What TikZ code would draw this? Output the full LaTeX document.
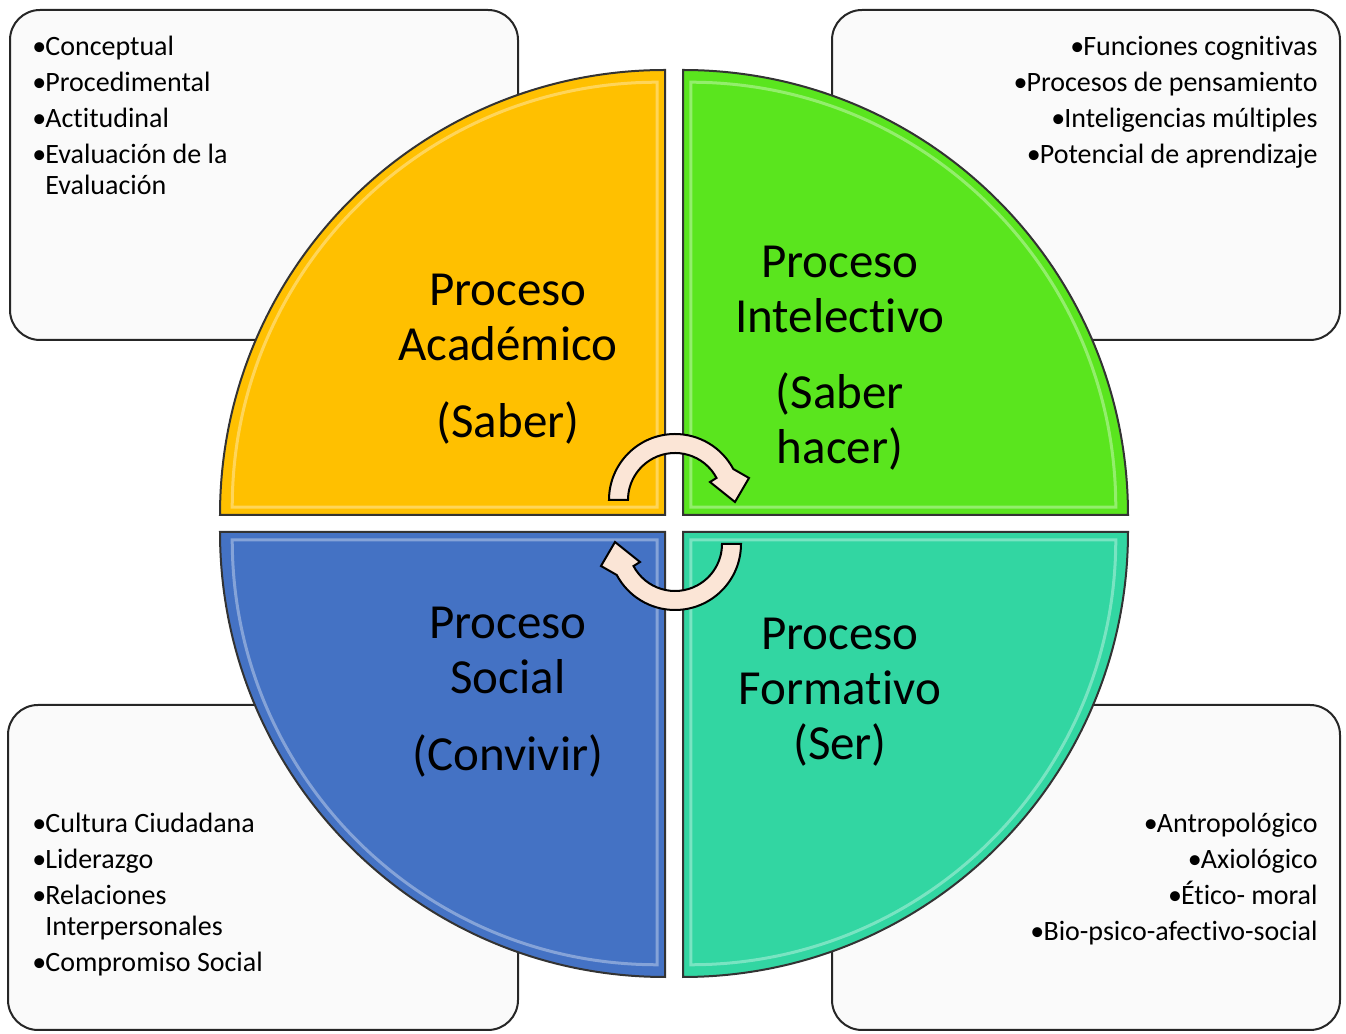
\documentclass[tikz,border=0pt]{standalone}
\usepackage{fontspec}
\setmainfont{Carlito}[Ligatures=NoCommon]
\usepackage{tikz}
\usetikzlibrary{calc}
\definecolor{academico}{HTML}{FFC000}
\definecolor{intelectivo}{HTML}{5AE51E}
\definecolor{social}{HTML}{4472C4}
\definecolor{formativo}{HTML}{32D6A2}
\definecolor{peach}{HTML}{FBE5D6}
\def\quarter[#1](#2)(#3:#4){\draw[#1] (#2) -- ++(#3:445) arc (#3:#4:445) -- cycle;}
\def\quartershine[#1](#2)(#3:#4){\draw[#1] ($(#2)+({(#3+#4)/2}:11)$) -- ++(#3:425) arc (#3:#4:425) -- cycle;}
\def\turnarrow[#1](#2)(#3){\begin{scope}[shift={(#2)},rotate=#3]
  \draw[#1] (-47,0) -- (-66,0) arc (180:28:66) -- (74,22) -- (60,-2) -- (35,18) -- (28:47) arc (28:180:47) -- cycle;
\end{scope}}
\newcommand\itm{\makebox[6.5pt][l]{•}}

\begin{document}
\begin{tikzpicture}[x=0.5pt,y=0.5pt,
  listbox/.style={draw=black!85, line width=1pt, fill=black!2, rounded corners=15pt},
  seg/.style={draw=black!80, line width=1pt},
  shine/.style={draw=white, line width=1.5pt, opacity=0.35},
  segtext/.style={align=center, inner sep=0pt, font=\fontsize{24.5}{27.5}\selectfont},
  itemtext/.style={inner sep=0pt, font=\fontsize{14}{15.5}\selectfont},
  turn/.style={draw=black, line width=1pt, fill=peach}]
			%%%%% START %%%%%
			
			\useasboundingbox (0,0) rectangle (1346,1034);
			
			\draw[listbox] (10,694) rectangle (518,1024);
			\draw[listbox] (832,694) rectangle (1340,1024);
			\draw[listbox] (8,4) rectangle (518,329);
			\draw[listbox] (832,4) rectangle (1340,329);
			
			\quarter[seg, fill=academico](665,519)(90:180)
			\quarter[seg, fill=intelectivo](683,519)(0:90)
			\quarter[seg, fill=social](665,502)(180:270)
			\quarter[seg, fill=formativo](683,502)(270:360)
			
			\quartershine[shine](665,519)(90:180)
			\quartershine[shine](683,519)(0:90)
			\quartershine[shine](665,502)(180:270)
			\quartershine[shine](683,502)(270:360)
			
			\turnarrow[turn](675,534)(0)
			\turnarrow[turn](675,490)(180)
			
			\node[segtext] (academico) at (508,675) {Proceso\\Académico\\[11pt](Saber)};
			\node[segtext] (intelectivo) at (840,676) {Proceso\\Intelectivo\\[10.5pt](Saber\\hacer)};
			\node[segtext] (social) at (508,342) {Proceso\\Social\\[11pt](Convivir)};
			\node[segtext] (formativo) at (840,342) {Proceso\\Formativo\\(Ser)};
			
			\node[itemtext, anchor=north west, align=left] (saberes) at (32,998) {\itm Conceptual\\[2.5pt]\itm Procedimental\\[2.5pt]\itm Actitudinal\\[2.5pt]\itm Evaluación de la\\\hspace*{6.5pt}Evaluación};
			\node[itemtext, anchor=north east, align=right] (funciones) at (1318,998) {\itm Funciones cognitivas\\[2.5pt]\itm Procesos de pensamiento\\[2.5pt]\itm Inteligencias múltiples\\[2.5pt]\itm Potencial de aprendizaje};
			\node[itemtext, anchor=north west, align=left] (convivencia) at (32,221) {\itm Cultura Ciudadana\\[2.5pt]\itm Liderazgo\\[2.5pt]\itm Relaciones\\\hspace*{6.5pt}Interpersonales\\[2.5pt]\itm Compromiso Social};
			\node[itemtext, anchor=north east, align=right] (dimensiones) at (1318,221) {\itm Antropológico\\[2.5pt]\itm Axiológico\\[2.5pt]\itm Ético- moral\\[2.5pt]\itm Bio-psico-afectivo-social};
			
			%%%%% END %%%%%
\end{tikzpicture}
\end{document}
